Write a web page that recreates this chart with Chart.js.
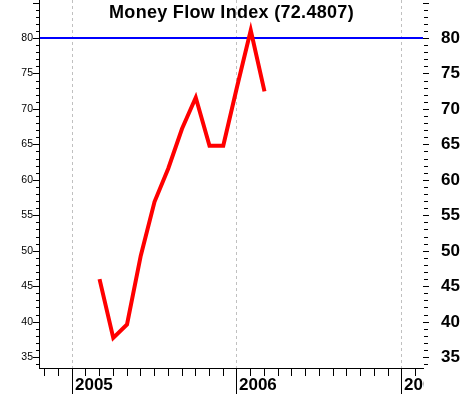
<!DOCTYPE html>
<html>
<head>
<meta charset="utf-8">
<title>Money Flow Index</title>
<script src="https://cdn.jsdelivr.net/npm/chart.js@4.4.0/dist/chart.umd.min.js"></script>
<style>
    html, body { margin: 0; padding: 0; background: #fff; }
    #wrap { width: 462px; height: 394px; }
</style>
</head>
<body>
<div id="wrap"><canvas id="mfiChart" width="462" height="394"></canvas></div>
<script>
// ─── Data ────────────────────────────────────────────
const months = ['2005-03', '2005-04', '2005-05', '2005-06', '2005-07', '2005-08', '2005-09',
                '2005-10', '2005-11', '2005-12', '2006-01', '2006-02', '2006-03'];
const mfiValues = [46.0, 37.7, 39.6, 49.3, 56.9, 61.6, 67.2, 71.6, 64.8, 64.8, 73.1, 81.1, 72.4807];
const overboughtLevel = 80;
const yTickLabels = [35, 40, 45, 50, 55, 60, 65, 70, 75, 80];
const yearLabels = ['2005', '2006', '2007'];
const titleText = 'Money Flow Index (72.4807)';

// visible range (months since Jan 2005, value axis)
const xRange = [-2.33, 25.53];
const yRange = [33.46, 85.36];

const FONT = "'Liberation Sans', Arial, sans-serif";

function monthIndex(s) {
    const [yr, mo] = s.split('-').map(Number);
    return (yr - 2005) * 12 + (mo - 1);
}

// ─── Axes, ticks, grid and title (drawn off the chart scales) ───
const mfiAxesPlugin = {
    id: 'mfiAxes',
    beforeDatasetsDraw(chart) {
        const { ctx, chartArea: a, scales: { x } } = chart;
        ctx.save();
        ctx.strokeStyle = '#c0c0c0';
        ctx.lineWidth = 1;
        ctx.setLineDash([3, 3]);
        yearLabels.forEach((lbl, i) => {
            const px = Math.floor(x.getPixelForValue(i * 12)) + 0.5;
            ctx.beginPath();
            ctx.moveTo(px, a.top);
            ctx.lineTo(px, a.bottom);
            ctx.stroke();
        });
        ctx.restore();
    },
    afterDraw(chart) {
        const { ctx, chartArea: a, scales: { x, y } } = chart;
        ctx.save();
        ctx.strokeStyle = '#000';
        ctx.fillStyle = '#000';
        ctx.lineWidth = 1;

        // left axis line + bottom axis line
        ctx.beginPath();
        ctx.moveTo(a.left - 0.5, a.top);
        ctx.lineTo(a.left - 0.5, a.bottom + 1);
        ctx.moveTo(a.left - 1, a.bottom + 0.5);
        ctx.lineTo(a.right + 1, a.bottom + 0.5);
        ctx.stroke();

        // value ticks, both sides
        ctx.beginPath();
        for (let v = Math.ceil(y.min); v <= Math.floor(y.max); v++) {
            const py = Math.round(y.getPixelForValue(v)) + 0.5;
            const major = v % 5 === 0;
            ctx.moveTo(a.left - 1 - (major ? 6 : 3), py);
            ctx.lineTo(a.left - 1, py);
            ctx.moveTo(a.right + (major ? 0 : 1), py);
            ctx.lineTo(a.right + (major ? 6 : 5), py);
        }
        // month ticks
        for (let m = Math.ceil(x.min); m <= Math.floor(x.max); m++) {
            const px = Math.floor(x.getPixelForValue(m)) + 0.5;
            ctx.moveTo(px, a.bottom + 1);
            ctx.lineTo(px, m % 12 === 0 ? chart.height : a.bottom + 8);
        }
        ctx.stroke();

        // left labels (small) and right labels (bold)
        ctx.textBaseline = 'middle';
        yTickLabels.forEach(v => {
            const py = Math.round(y.getPixelForValue(v)) + 0.5;
            ctx.font = '10.5px ' + FONT;
            ctx.textAlign = 'right';
            ctx.fillText(String(v), a.left - 7, py);
            ctx.font = 'bold 17px ' + FONT;
            ctx.textAlign = 'left';
            ctx.fillText(String(v), a.right + 18, py);
        });

        // year labels, clipped at the plot's right edge
        ctx.save();
        ctx.beginPath();
        ctx.rect(0, a.bottom, a.right + 1, chart.height - a.bottom);
        ctx.clip();
        ctx.font = 'bold 17px ' + FONT;
        ctx.textAlign = 'left';
        ctx.textBaseline = 'alphabetic';
        yearLabels.forEach((lbl, i) => {
            const px = Math.floor(x.getPixelForValue(i * 12));
            ctx.fillText(lbl, px + 3, chart.height - 4);
        });
        ctx.restore();

        // title
        ctx.font = 'bold 18px ' + FONT;
        ctx.letterSpacing = '0.3px';
        ctx.textAlign = 'center';
        ctx.textBaseline = 'alphabetic';
        ctx.fillText(titleText, (a.left + a.right) / 2, 18);
        ctx.restore();
    }
};

const ctx = document.getElementById('mfiChart').getContext('2d');

new Chart(ctx, {
    type: 'line',
    data: {
        datasets: [
            {
                label: 'MFI',
                data: months.map((m, i) => ({ x: monthIndex(m), y: mfiValues[i] })),
                borderColor: '#ff0000',
                borderWidth: 4,
                borderJoinStyle: 'miter',
                pointRadius: 0,
                tension: 0,
                fill: false
            },
            {
                label: 'Overbought',
                data: [{ x: xRange[0], y: overboughtLevel }, { x: xRange[1], y: overboughtLevel }],
                borderColor: '#0000ff',
                borderWidth: 2,
                pointRadius: 0,
                fill: false
            }
        ]
    },
    options: {
        responsive: false,
        animation: false,
        devicePixelRatio: 1,
        layout: { padding: { left: 40, right: 39, top: 0, bottom: 26 } },
        scales: {
            x: { type: 'linear', min: xRange[0], max: xRange[1], display: false },
            y: { type: 'linear', min: yRange[0], max: yRange[1], display: false }
        },
        plugins: {
            legend: { display: false },
            tooltip: { enabled: false }
        }
    },
    plugins: [mfiAxesPlugin]
});
</script>
</body>
</html>
